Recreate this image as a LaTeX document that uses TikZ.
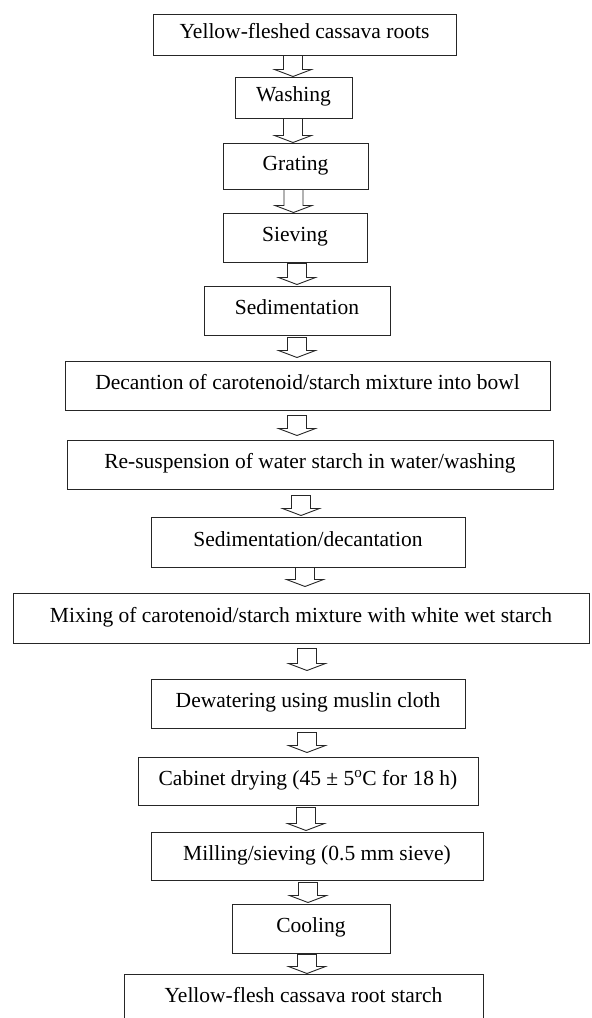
\documentclass[tikz,border=0pt]{standalone}
\usepackage{fontspec}
\setmainfont{Liberation Serif}
\usetikzlibrary{calc}
\tikzset{
  stepbox/.style={draw=black!85, line width=1pt, inner sep=0pt, fill=white,
    font=\fontsize{21.5pt}{26pt}\selectfont, text height=15pt, text depth=6.5pt},
  flowarr/.style={draw=black!85, line width=0.9pt, fill=white, line join=miter}
}
\newcommand\flowarrow[5]{%
  \draw[flowarr] let \p1=(#2.south), \p2=(#3.north) in
    (#1pt-9.5pt,\y1-#4pt) -- (#1pt+9.5pt,\y1-#4pt) -- (#1pt+9.5pt,\y2+#5pt+7pt)
    -- (#1pt+18.5pt,\y2+#5pt+7pt) -- (#1pt,\y2+#5pt) -- (#1pt-18.5pt,\y2+#5pt+7pt)
    -- (#1pt-9.5pt,\y2+#5pt+7pt) -- cycle;}
\begin{document}
\begin{tikzpicture}[x=1pt,y=-1pt]
\useasboundingbox (0,0) rectangle (592,1018);
\clip (0,0) rectangle (592,1018);
\fill[white] (0,0) rectangle (592,1018);

\node[stepbox, minimum width=303pt, minimum height=41pt] (n1) at (304.5,34.5) {Yellow-fleshed cassava roots};
\node[stepbox, minimum width=117pt, minimum height=41pt] (n2) at (293.5,97.5) {Washing};
\node[stepbox, minimum width=145pt, minimum height=46pt] (n3) at (295.5,166) {Grating};
\node[stepbox, minimum width=144pt, minimum height=49pt] (n4) at (295,237.5) {Sieving};
\node[stepbox, minimum width=186pt, minimum height=49pt] (n5) at (297,310.5) {Sedimentation};
\node[stepbox, minimum width=485pt, minimum height=49pt] (n6) at (307.5,385.5) {Decantion of carotenoid/starch mixture into bowl};
\node[stepbox, minimum width=486pt, minimum height=49pt] (n7) at (310,464.5) {Re-suspension of water starch in water/washing};
\node[stepbox, minimum width=314pt, minimum height=50pt] (n8) at (308,542) {Sedimentation/decantation};
\node[stepbox, minimum width=576pt, minimum height=50pt] (n9) at (301,618) {Mixing of carotenoid/starch mixture with white wet starch};
\node[stepbox, minimum width=314pt, minimum height=49pt] (n10) at (308,703.5) {Dewatering using muslin cloth};
\node[stepbox, minimum width=340pt, minimum height=48pt] (n11) at (308,781) {Cabinet drying (45 ± 5\textsuperscript{o}C for 18 h)};
\node[stepbox, minimum width=332pt, minimum height=48pt] (n12) at (317,856) {Milling/sieving (0.5 mm sieve)};
\node[stepbox, minimum width=158pt, minimum height=49pt] (n13) at (311,928.5) {Cooling};
\node[stepbox, minimum width=359pt, minimum height=49pt] (n14) at (303.5,998.5) {Yellow-flesh cassava root starch};

\flowarrow{293}{n1}{n2}{0}{0}
\flowarrow{293}{n2}{n3}{0}{0}
\flowarrow{293.5}{n3}{n4}{0}{0}
\flowarrow{297}{n4}{n5}{1}{1}
\flowarrow{297}{n5}{n6}{2}{3}
\flowarrow{297}{n6}{n7}{5}{4}
\flowarrow{301}{n7}{n8}{6}{1}
\flowarrow{305}{n8}{n9}{0}{6}
\flowarrow{307}{n9}{n10}{5}{8}
\flowarrow{307}{n10}{n11}{4}{4}
\flowarrow{306}{n11}{n12}{2}{1}
\flowarrow{308}{n12}{n13}{2}{1}
\flowarrow{307}{n13}{n14}{1}{0}
\end{tikzpicture}
\end{document}
